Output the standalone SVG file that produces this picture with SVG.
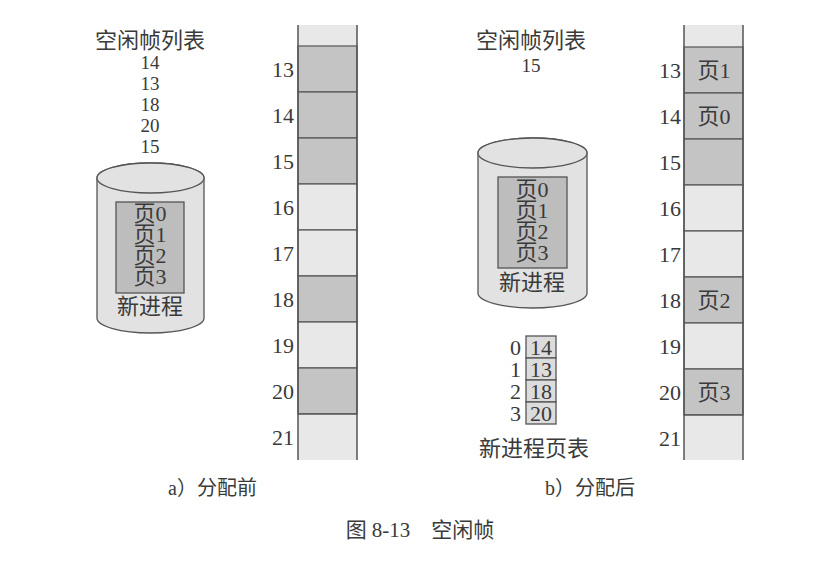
<svg xmlns="http://www.w3.org/2000/svg" width="840" height="574" viewBox="0 0 840 574">
<style>
.t{font-family:"Liberation Serif","Noto Sans CJK SC",serif;fill:#3a3a3a;}
.c{font-family:"Liberation Serif","Noto Sans CJK SC",serif;fill:#3a3a3a;font-size:22px;text-anchor:middle;}
.n{font-family:"Liberation Serif",serif;fill:#3a3a3a;font-size:22px;}
.s{font-size:19px;}
.r{text-anchor:end;}
.m{text-anchor:middle;}
.dk{fill:#c4c4c4;stroke:#555;stroke-width:1.2;}
.lt{fill:#e8e8e8;stroke:#555;stroke-width:1.2;}
.ln{fill:#e8e8e8;stroke:none;}
.side{stroke:#555;stroke-width:1.5;fill:none;}
.cyl{fill:#e2e2e2;stroke:#555;stroke-width:1.3;}
.inner{fill:#bdbdbd;stroke:#555;stroke-width:1.3;}
.pt{fill:#dcdcdc;stroke:#555;stroke-width:1.3;}
</style>
<rect width="840" height="574" fill="#ffffff"/>

<!-- Left: before allocation -->
<g id="free-list-a">
<text class="c" x="150" y="48" font-size="23">空闲帧列表</text>
<text class="n m s" x="150" y="69">14</text>
<text class="n m s" x="150" y="90">13</text>
<text class="n m s" x="150" y="111">18</text>
<text class="n m s" x="150" y="132">20</text>
<text class="n m s" x="150" y="153">15</text>
</g>

<g id="process-a">
<path class="cyl" d="M97,178 L97,318 A53.5,15 0 0 0 204,318 L204,178 A53.5,15 0 0 0 97,178 Z"/>
<ellipse class="cyl" cx="150.5" cy="178" rx="53.5" ry="15"/>
<rect class="inner" x="116" y="202" width="68" height="91"/>
<text class="c" x="150" y="221" font-size="19">页0</text>
<text class="c" x="150" y="242" font-size="19">页1</text>
<text class="c" x="150" y="263" font-size="19">页2</text>
<text class="c" x="150" y="284" font-size="19">页3</text>
<text class="c" x="150" y="314" font-size="23">新进程</text>
</g>

<g id="memory-a">
<rect class="ln" x="298" y="25" width="59" height="21"/>
<rect class="dk" x="298" y="46" width="59" height="46"/>
<rect class="dk" x="298" y="92" width="59" height="46"/>
<rect class="dk" x="298" y="138" width="59" height="46"/>
<rect class="lt" x="298" y="184" width="59" height="46"/>
<rect class="lt" x="298" y="230" width="59" height="46"/>
<rect class="dk" x="298" y="276" width="59" height="46"/>
<rect class="lt" x="298" y="322" width="59" height="46"/>
<rect class="dk" x="298" y="368" width="59" height="46"/>
<rect class="ln" x="298" y="414" width="59" height="46"/>
<line class="side" x1="298" y1="25" x2="298" y2="460"/>
<line class="side" x1="357" y1="25" x2="357" y2="460"/>
<line class="side" x1="298" y1="414" x2="357" y2="414"/>
<text class="n r" x="294" y="77">13</text>
<text class="n r" x="294" y="123">14</text>
<text class="n r" x="294" y="169">15</text>
<text class="n r" x="294" y="215">16</text>
<text class="n r" x="294" y="261">17</text>
<text class="n r" x="294" y="307">18</text>
<text class="n r" x="294" y="353">19</text>
<text class="n r" x="294" y="399">20</text>
<text class="n r" x="294" y="445">21</text>
</g>

<!-- Right: after allocation -->
<g id="free-list-b">
<text class="c" x="531" y="48" font-size="23">空闲帧列表</text>
<text class="n m s" x="531" y="72">15</text>
</g>

<g id="process-b">
<path class="cyl" d="M478,153 L478,293 A54.5,15 0 0 0 587,293 L587,153 A54.5,15 0 0 0 478,153 Z"/>
<ellipse class="cyl" cx="532.5" cy="153" rx="54.5" ry="15"/>
<rect class="inner" x="498" y="177" width="69" height="91"/>
<text class="c" x="532" y="197" font-size="19">页0</text>
<text class="c" x="532" y="218" font-size="19">页1</text>
<text class="c" x="532" y="239" font-size="19">页2</text>
<text class="c" x="532" y="260" font-size="19">页3</text>
<text class="c" x="532" y="290" font-size="23">新进程</text>
</g>

<g id="page-table-b">
<rect class="pt" x="526" y="336" width="30" height="22"/>
<rect class="pt" x="526" y="358" width="30" height="22"/>
<rect class="pt" x="526" y="380" width="30" height="22"/>
<rect class="pt" x="526" y="402" width="30" height="22"/>
<text class="n m" x="541" y="355">14</text>
<text class="n m" x="541" y="377">13</text>
<text class="n m" x="541" y="399">18</text>
<text class="n m" x="541" y="421">20</text>
<text class="n r" x="521" y="355">0</text>
<text class="n r" x="521" y="377">1</text>
<text class="n r" x="521" y="399">2</text>
<text class="n r" x="521" y="421">3</text>
<text class="c" x="534" y="456" font-size="23">新进程页表</text>
</g>

<g id="memory-b">
<rect class="ln" x="684" y="25" width="59" height="22"/>
<rect class="dk" x="684" y="47" width="59" height="46"/>
<rect class="dk" x="684" y="93" width="59" height="46"/>
<rect class="dk" x="684" y="139" width="59" height="46"/>
<rect class="lt" x="684" y="185" width="59" height="46"/>
<rect class="lt" x="684" y="231" width="59" height="46"/>
<rect class="dk" x="684" y="277" width="59" height="46"/>
<rect class="lt" x="684" y="323" width="59" height="46"/>
<rect class="dk" x="684" y="369" width="59" height="46"/>
<rect class="ln" x="684" y="415" width="59" height="45"/>
<line class="side" x1="684" y1="25" x2="684" y2="460"/>
<line class="side" x1="743" y1="25" x2="743" y2="460"/>
<line class="side" x1="684" y1="415" x2="743" y2="415"/>
<text class="c" x="714" y="78" font-size="21">页1</text>
<text class="c" x="714" y="124" font-size="21">页0</text>
<text class="c" x="714" y="308" font-size="21">页2</text>
<text class="c" x="714" y="400" font-size="21">页3</text>
<text class="n r" x="681" y="78">13</text>
<text class="n r" x="681" y="124">14</text>
<text class="n r" x="681" y="170">15</text>
<text class="n r" x="681" y="216">16</text>
<text class="n r" x="681" y="262">17</text>
<text class="n r" x="681" y="308">18</text>
<text class="n r" x="681" y="354">19</text>
<text class="n r" x="681" y="400">20</text>
<text class="n r" x="681" y="446">21</text>
</g>

<g id="connectors"></g>

<g id="captions">
<text class="t" x="168" y="495" font-size="20">a）分配前</text>
<text class="t" x="545" y="495" font-size="20">b）分配后</text>
<text class="t m" x="420" y="537" font-size="21">图 8-13　空闲帧</text>
</g>
</svg>
